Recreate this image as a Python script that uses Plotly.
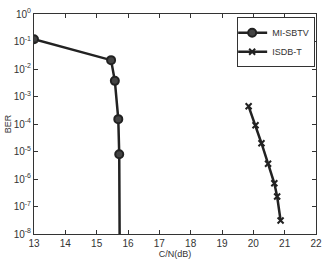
import plotly.graph_objects as go

mi_x = [13.0, 15.46, 15.58, 15.69, 15.72, 15.75]
mi_y = [1.2e-1, 2.1e-2, 3.7e-3, 1.5e-4, 8e-6, 1e-12]

isdb_x = [19.85, 20.07, 20.26, 20.47, 20.67, 20.76, 20.87]
isdb_y = [4.4e-4, 9e-5, 2e-5, 3.6e-6, 7e-7, 2.3e-7, 3.1e-8]

x_ticks = list(range(13, 23))
y_exps = [0, -1, -2, -3, -4, -5, -6, -7, -8]

col = "#222"
fig = go.Figure()
fig.add_trace(go.Scatter(x=mi_x, y=mi_y, mode="lines+markers", name="MI-SBTV",
                         line=dict(color=col, width=2.5),
                         marker=dict(symbol="circle", size=8, color="#444",
                                     line=dict(color=col, width=2))))
fig.add_trace(go.Scatter(x=isdb_x, y=isdb_y, mode="lines+markers", name="ISDB-T",
                         line=dict(color=col, width=2.5),
                         marker=dict(symbol="x-thin", size=6, color=col,
                                     line=dict(color=col, width=2))))

axis_common = dict(showgrid=False, zeroline=False, showline=True, linecolor="#333",
                   linewidth=1, mirror="ticks", ticks="inside", ticklen=4,
                   tickcolor="#333", tickfont=dict(family="Liberation Sans", size=10, color="#333"))
fig.update_xaxes(range=[13, 22], tickvals=x_ticks, ticktext=[str(v) for v in x_ticks],
                 title=dict(text="C/N(dB)", font=dict(family="Liberation Sans", size=9, color="#333"),
                            standoff=2), **axis_common)
fig.update_yaxes(type="log", range=[-8, 0], tickvals=[10.0 ** e for e in y_exps],
                 ticktext=[f"10<sup>{e}</sup>" for e in y_exps],
                 title=dict(text="BER", font=dict(family="Liberation Sans", size=9, color="#333"),
                            standoff=0), **axis_common)

fig.update_layout(width=329, height=264, margin=dict(l=33, r=7, t=12, b=28),
                  plot_bgcolor="white", paper_bgcolor="white",
                  showlegend=True,
                  legend=dict(x=0.997, y=0.985, xanchor="right", yanchor="top",
                              bordercolor="#333", borderwidth=1, bgcolor="white",
                              font=dict(family="Liberation Sans", size=9, color="#333"),
                              itemwidth=30, tracegroupgap=0, indentation=-6))
fig.write_html("out.html")
